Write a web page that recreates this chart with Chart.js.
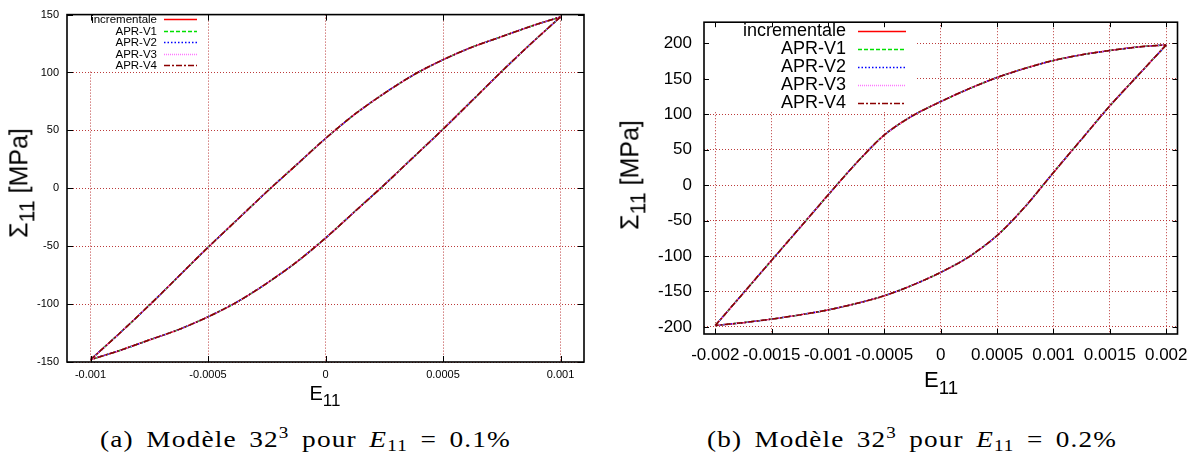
<!DOCTYPE html>
<html>
<head>
<meta charset="utf-8">
<script src="https://cdn.jsdelivr.net/npm/chart.js@4.4.0/dist/chart.umd.min.js"></script>
<style>
  body { margin: 0; background: #fff; }
  #page { position: relative; width: 1199px; height: 464px; overflow: hidden; font-family: "Liberation Sans", Arial, sans-serif; color: #000; }
  canvas { position: absolute; top: 0; }
  #chartA { left: 0; }
  #chartB { left: 600px; }
  .ytitle { position: absolute; transform: translate(-50%, -50%) rotate(-90deg); white-space: nowrap; font-size: 25px; line-height: 1; }
  .xtitle { position: absolute; transform: translate(-50%, -50%); white-space: nowrap; line-height: 1; }
  .sub { font-size: 0.85em; position: relative; top: 0.35em; }
  .caption { position: absolute; white-space: nowrap; font-family: "Liberation Serif", "DejaVu Serif", serif; font-size: 24px; line-height: 25px; letter-spacing: 1px; word-spacing: 4px; transform-origin: 0 0; }
  .caption sup { font-size: 0.7em; vertical-align: 0.55em; line-height: 0; }
  .caption sub { font-size: 0.7em; vertical-align: -0.25em; line-height: 0; }
</style>
</head>
<body>
<div id="page">
  <canvas id="chartA" width="600" height="400"></canvas>
  <canvas id="chartB" width="599" height="400"></canvas>

  <div class="ytitle" style="left:19px; top:183px;">&Sigma;<span class="sub">11</span> [MPa]</div>
  <div class="xtitle" style="left:325px; top:393px; font-size:20px;">E<span class="sub">11</span></div>
  <div class="ytitle" style="left:630px; top:175px;">&Sigma;<span class="sub">11</span> [MPa]</div>
  <div class="xtitle" style="left:941px; top:380px; font-size:22px;">E<span class="sub">11</span></div>

  <div class="caption" data-left="100" data-width="411" style="top:427px;">(a) Modèle 32<sup>3</sup> pour <i>E</i><sub>11</sub> = 0.1%</div>
  <div class="caption" data-left="707" data-width="410" style="top:427px;">(b) Modèle 32<sup>3</sup> pour <i>E</i><sub>11</sub> = 0.2%</div>
</div>

<script>
// series (all five curves lie on top of each other)
const seriesNames = ["incrementale", "APR-V1", "APR-V2", "APR-V3", "APR-V4"];

// (a) E11 = 0.1%  -- upper branch then lower branch
const strainA_up = [-0.001, -0.000875, -0.00075, -0.000625, -0.0005, -0.000375, -0.00025, -0.000125, 0,
  0.000125, 0.00025, 0.000375, 0.0005, 0.000625, 0.00075, 0.000875, 0.001];
const stressA_up = [-148, -125, -101, -76, -51, -27, -3, 20, 43, 64, 82, 98, 111, 122, 131, 140, 148];
const strainA_down = [0.001, 0.000875, 0.00075, 0.000625, 0.0005, 0.000375, 0.00025, 0.000125, 0,
  -0.000125, -0.00025, -0.000375, -0.0005, -0.000625, -0.00075, -0.000875, -0.001];
const stressA_down = [148, 125, 101, 76, 51, 27, 3, -20, -43, -64, -82, -98, -111, -122, -131, -140, -148];

// (b) E11 = 0.2%
const strainB_up = [-0.002, -0.00175, -0.0015, -0.00125, -0.001, -0.00075, -0.0005, -0.00025, 0,
  0.00025, 0.0005, 0.00075, 0.001, 0.00125, 0.0015, 0.00175, 0.002];
const stressB_up = [-198, -152, -106, -60, -14, 31, 71, 98, 118, 136, 152, 165, 176, 184, 190, 195, 198];
const strainB_down = [0.002, 0.00175, 0.0015, 0.00125, 0.001, 0.00075, 0.0005, 0.00025, 0,
  -0.00025, -0.0005, -0.00075, -0.001, -0.00125, -0.0015, -0.00175, -0.002];
const stressB_down = [198, 155, 112, 65, 18, -30, -71, -101, -123, -141, -156, -167, -176, -183, -189, -194, -198];

// ticks
const xTicksA = [-0.001, -0.0005, 0, 0.0005, 0.001];
const xLabelsA = ["-0.001", "-0.0005", "0", "0.0005", "0.001"];
const yTicksA = [-150, -100, -50, 0, 50, 100, 150];
const xTicksB = [-0.002, -0.0015, -0.001, -0.0005, 0, 0.0005, 0.001, 0.0015, 0.002];
const xLabelsB = ["-0.002", "-0.0015", "-0.001", "-0.0005", "0", "0.0005", "0.001", "0.0015", "0.002"];
const yTicksB = [-200, -150, -100, -50, 0, 50, 100, 150, 200];

// line styles, gnuplot-like
const lineColors = ["#ff0000", "#00e000", "#0000ff", "#ff77ff", "#8b0000"];
const lineDash = [[], [4, 2], [1.5, 2], [1, 1], [6, 2, 2, 2]];

function loopPoints(xu, yu, xd, yd) {
  const pts = xu.map((x, i) => ({ x: x, y: yu[i] }));
  pts.push({ x: xu[xu.length - 1], y: null }); // break between branches
  return pts.concat(xd.map((x, i) => ({ x: x, y: yd[i] })));
}

// gnuplot style frame with inward ticks on all four sides
const framePlugin = {
  id: "gpFrame",
  afterDatasetsDraw(chart, args, opts) {
    const { ctx, chartArea: a, scales } = chart;
    const x = scales.x, y = scales.y;
    ctx.save();
    ctx.strokeStyle = "#000";
    ctx.lineWidth = 1;
    ctx.beginPath();
    x.ticks.forEach((t) => {
      const px = Math.round(x.getPixelForValue(t.value)) + 0.5;
      ctx.moveTo(px, a.bottom); ctx.lineTo(px, a.bottom - opts.tick);
      ctx.moveTo(px, a.top); ctx.lineTo(px, a.top + opts.tick);
    });
    y.ticks.forEach((t) => {
      const py = Math.round(y.getPixelForValue(t.value)) + 0.5;
      ctx.moveTo(a.left, py); ctx.lineTo(a.left + opts.tick, py);
      ctx.moveTo(a.right, py); ctx.lineTo(a.right - opts.tick, py);
    });
    ctx.stroke();
    ctx.lineWidth = 1.6;
    ctx.strokeRect(a.left, a.top, a.right - a.left, a.bottom - a.top);
    ctx.restore();
  }
};

// key: text right aligned, line sample on the right
const keyPlugin = {
  id: "gpKey",
  beforeDatasetsDraw(chart, args, o) {
    const ctx = chart.ctx;
    ctx.save();
    ctx.fillStyle = "#fff";
    ctx.fillRect(o.box[0], o.box[1], o.box[2], o.box[3]);
    ctx.font = o.size + 'px "Liberation Sans", Arial, sans-serif';
    ctx.textAlign = "right";
    ctx.textBaseline = "middle";
    chart.data.datasets.forEach((ds, i) => {
      const yy = Math.round(o.y0 + i * o.dy) + 0.5;
      ctx.fillStyle = "#000";
      ctx.fillText(ds.label, o.textX, yy);
      ctx.strokeStyle = ds.borderColor;
      ctx.lineWidth = 1.5;
      ctx.setLineDash(ds.borderDash);
      ctx.beginPath();
      ctx.moveTo(o.x0, yy);
      ctx.lineTo(o.x1, yy);
      ctx.stroke();
    });
    ctx.restore();
  }
};

const gridColor = "rgba(175, 25, 25, 0.85)";

function makeChart(id, p) {
  const pts = loopPoints(p.xu, p.yu, p.xd, p.yd);
  const datasets = seriesNames.map((name, i) => ({
    label: name,
    data: pts,
    showLine: true,
    pointRadius: 0,
    borderColor: lineColors[i],
    borderDash: lineDash[i],
    borderWidth: 1.5,
    tension: 0.3,
    spanGaps: false,
    order: seriesNames.length - i
  }));

  return new Chart(document.getElementById(id), {
    type: "scatter",
    data: { datasets: datasets },
    plugins: [keyPlugin, framePlugin],
    options: {
      responsive: false,
      animation: false,
      events: [],
      layout: { padding: p.padding },
      plugins: {
        legend: { display: false },
        tooltip: { enabled: false },
        gpKey: p.key,
        gpFrame: { tick: p.tick }
      },
      scales: {
        x: {
          type: "linear",
          min: p.xRange[0],
          max: p.xRange[1],
          afterBuildTicks: (s) => { s.ticks = p.xTicks.map((v) => ({ value: v })); },
          afterFit: (s) => { s.height = p.xAxisH; },
          ticks: {
            autoSkip: false, maxRotation: 0, minRotation: 0,
            padding: p.xPad, color: "#000",
            font: { family: "Liberation Sans", size: p.tickSize },
            callback: (v, i) => p.xLabels[i]
          },
          grid: { color: gridColor, lineWidth: 1, drawTicks: false },
          border: { display: false, dash: [1, 2] }
        },
        y: {
          type: "linear",
          min: p.yRange[0],
          max: p.yRange[1],
          afterBuildTicks: (s) => { s.ticks = p.yTicks.map((v) => ({ value: v })); },
          afterFit: (s) => { s.width = p.yAxisW; },
          ticks: {
            padding: p.yPad, color: "#000",
            font: { family: "Liberation Sans", size: p.tickSize },
            callback: (v) => String(v)
          },
          grid: { color: gridColor, lineWidth: 1, drawTicks: false },
          border: { display: false, dash: [1, 2] }
        }
      }
    }
  });
}

makeChart("chartA", {
  xu: strainA_up, yu: stressA_up, xd: strainA_down, yd: stressA_down,
  xTicks: xTicksA, xLabels: xLabelsA, yTicks: yTicksA,
  xRange: [-0.0011, 0.0011], yRange: [-150, 150],
  padding: { left: 0, top: 7, right: 16, bottom: 0 },
  yAxisW: 67, xAxisH: 38, xPad: 6, yPad: 8, tickSize: 11, tick: 6,
  key: { box: [68, 8, 135, 62], size: 11.5, textX: 157, x0: 164, x1: 197, y0: 19, dy: 11.5 }
});

makeChart("chartB", {
  xu: strainB_up, yu: stressB_up, xd: strainB_down, yd: stressB_down,
  xTicks: xTicksB, xLabels: xLabelsB, yTicks: yTicksB,
  xRange: [-0.0021, 0.0021], yRange: [-210, 230],
  padding: { left: 0, top: 16, right: 21, bottom: 0 },
  yAxisW: 104, xAxisH: 66, xPad: 11, yPad: 12, tickSize: 17, tick: 5,
  key: { box: [105, 17, 212, 95], size: 18, textX: 246, x0: 258, x1: 306, y0: 31, dy: 18 }
});

// the LaTeX captions are wide: stretch them to the width they take in the figure
document.querySelectorAll(".caption").forEach((el) => {
  const w = el.getBoundingClientRect().width;
  el.style.left = el.dataset.left + "px";
  el.style.transform = "scaleX(" + (Number(el.dataset.width) / w) + ")";
});
</script>
</body>
</html>
